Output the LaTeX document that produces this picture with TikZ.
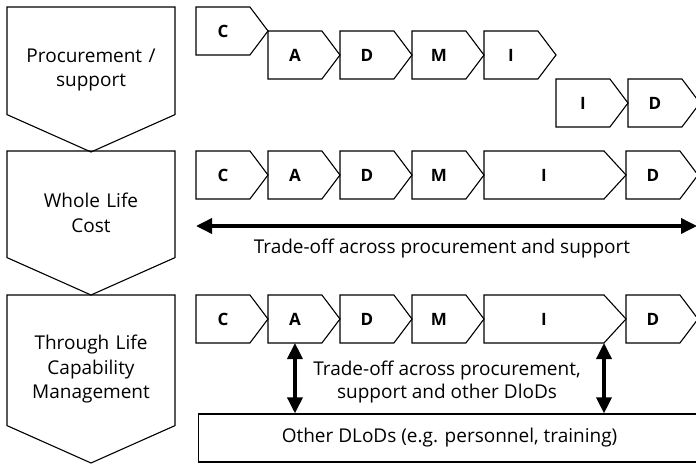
\documentclass[tikz,border=0pt]{standalone}
\usepackage{fontspec}
\setmainfont{Open Sans}
\usetikzlibrary{arrows.meta, positioning, shapes.symbols, calc}

\begin{document}
\begin{tikzpicture}[
    x=1pt, y=1pt, node distance=0pt,
    stage/.style={draw, line width=1.1pt, signal, signal to=south,
      signal pointer angle=132, text width=168pt, text height=32pt,
      inner sep=0pt, outer sep=0pt, align=center,
      font=\fontsize{19}{24.5}\selectfont},
    phase/.style={draw, line width=1.1pt, signal, signal to=east,
      signal pointer angle=106, minimum height=48pt, minimum width=72pt,
      inner sep=0pt, outer sep=0pt,
      font=\fontsize{17}{18}\selectfont\bfseries},
    longphase/.style={phase, minimum width=142pt, signal pointer angle=95},
    tradeoff/.style={{Triangle[length=16pt,width=15pt]}-{Triangle[length=16pt,width=15pt]},
      line width=3.5pt},
    note/.style={align=center, font=\fontsize{19}{23.5}\selectfont},
  ]
  \clip (0,0) rectangle (696,464);

  % left-hand stages
  \node[stage, minimum height=145pt, anchor=north] (proc) at (91,457)
    {Procurement /\\support};
  \node[stage, minimum height=144pt, anchor=north] (wlc) at (91,313)
    {Whole Life\\Cost};
  \node[stage, minimum height=168pt, anchor=north] (tlcm) at (91,169)
    {Through Life\\Capability\\Management};

  % procurement / support
  \node[phase, anchor=west] (c1) at (196,433) {C};
  \node[phase, anchor=west] (a1) at ($(c1.east)+(0,-24)$) {A};
  \node[phase, right=of a1] (d1) {D};
  \node[phase, right=of d1] (m1) {M};
  \node[phase, right=of m1] (i1) {I};
  \node[phase, anchor=west] (i1b) at ($(i1.east)+(0,-48)$) {I};
  \node[phase, right=of i1b] (d1b) {D};

  % whole life cost
  \node[phase, anchor=west] (c2) at (196,289) {C};
  \node[phase, right=of c2] (a2) {A};
  \node[phase, right=of a2] (d2) {D};
  \node[phase, right=of d2] (m2) {M};
  \node[longphase, right=of m2] (i2) {I};
  \node[phase, right=of i2] (d2b) {D};

  \coordinate (wl) at ($(c2.west)+(0,-51)$);
  \coordinate (wr) at (697,238);
  \draw[tradeoff] (wl) -- (wr);
  \node[note] (wlnote) at (442,215) {Trade-off across procurement and support};

  % through life capability management
  \node[phase, anchor=west] (c3) at (196,145) {C};
  \node[phase, right=of c3] (a3) {A};
  \node[phase, right=of a3] (d3) {D};
  \node[phase, right=of d3] (m3) {M};
  \node[longphase, right=of m3] (i3) {I};
  \node[phase, right=of i3] (d3b) {D};

  \node[draw, line width=1.1pt, minimum width=502pt, minimum height=48pt,
        inner sep=0pt, font=\fontsize{19}{18}\selectfont,
        anchor=south west] (dlod) at (198,1.5)
    {Other DLoDs (e.g. personnel, training)};

  \draw[tradeoff] (a3.south) -- (a3.south |- dlod.north);
  \draw[tradeoff] ([xshift=60pt]i3.south) -- ([xshift=60pt]i3.south |- dlod.north);
  \node[note] (tlnote) at (447,82)
    {Trade-off across procurement,\\support and other DloDs};
\end{tikzpicture}
\end{document}
